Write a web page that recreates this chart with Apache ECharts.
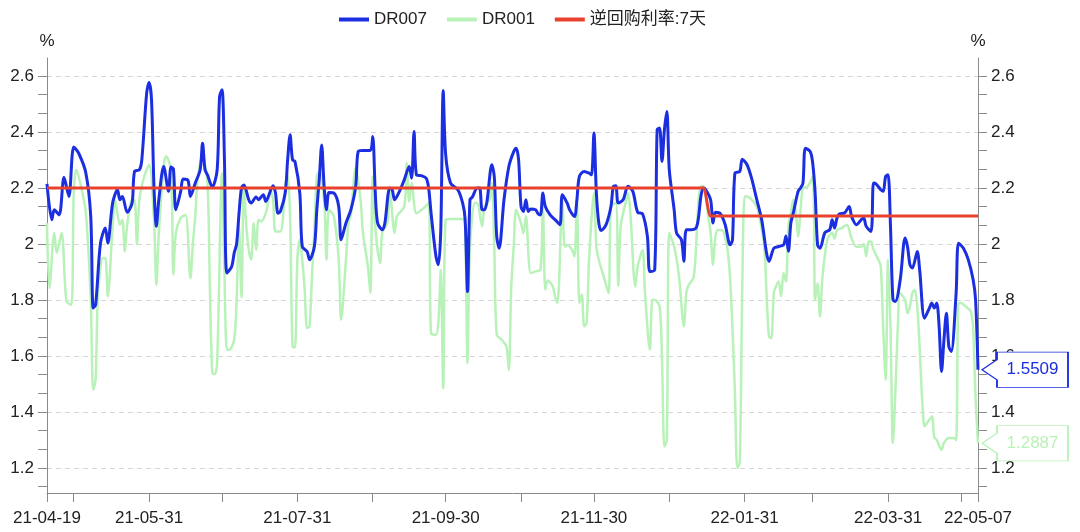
<!DOCTYPE html>
<html><head><meta charset="utf-8">
<script src="https://cdn.jsdelivr.net/npm/echarts@6/dist/echarts.min.js"></script>
<style>html,body{margin:0;padding:0;background:#fff}#c{width:1080px;height:532px}</style>
</head><body><div id="c"></div>
<script>
const dr007Dates = ['2021-04-19','2021-04-21','2021-04-22','2021-04-24','2021-04-26','2021-04-28','2021-04-30','2021-05-02','2021-05-05','2021-05-07','2021-05-08','2021-05-09','2021-05-11','2021-05-13','2021-05-14','2021-05-16','2021-05-18','2021-05-19','2021-05-20','2021-05-22','2021-05-24','2021-05-25','2021-05-27','2021-05-28','2021-05-30','2021-05-31','2021-06-01','2021-06-02','2021-06-03','2021-06-04','2021-06-06','2021-06-08','2021-06-09','2021-06-10','2021-06-11','2021-06-13','2021-06-14','2021-06-16','2021-06-17','2021-06-19','2021-06-21','2021-06-22','2021-06-23','2021-06-24','2021-06-26','2021-06-28','2021-06-29','2021-06-30','2021-07-01','2021-07-02','2021-07-04','2021-07-05','2021-07-06','2021-07-07','2021-07-08','2021-07-09','2021-07-11','2021-07-12','2021-07-14','2021-07-15','2021-07-17','2021-07-18','2021-07-21','2021-07-22','2021-07-23','2021-07-24','2021-07-26','2021-07-27','2021-07-28','2021-07-29','2021-07-30','2021-08-01','2021-08-02','2021-08-04','2021-08-05','2021-08-07','2021-08-08','2021-08-09','2021-08-10','2021-08-11','2021-08-12','2021-08-13','2021-08-15','2021-08-17','2021-08-18','2021-08-20','2021-08-22','2021-08-24','2021-08-25','2021-08-27','2021-08-30','2021-08-31','2021-09-01','2021-09-02','2021-09-04','2021-09-05','2021-09-07','2021-09-08','2021-09-09','2021-09-11','2021-09-13','2021-09-15','2021-09-16','2021-09-17','2021-09-18','2021-09-20','2021-09-22','2021-09-23','2021-09-24','2021-09-26','2021-09-27','2021-09-28','2021-09-29','2021-09-30','2021-10-02','2021-10-05','2021-10-07','2021-10-08','2021-10-09','2021-10-10','2021-10-11','2021-10-13','2021-10-14','2021-10-15','2021-10-16','2021-10-17','2021-10-19','2021-10-20','2021-10-21','2021-10-22','2021-10-24','2021-10-26','2021-10-28','2021-10-29','2021-10-30','2021-10-31','2021-11-01','2021-11-02','2021-11-03','2021-11-04','2021-11-06','2021-11-07','2021-11-08','2021-11-09','2021-11-10','2021-11-12','2021-11-14','2021-11-16','2021-11-17','2021-11-19','2021-11-20','2021-11-22','2021-11-23','2021-11-24','2021-11-26','2021-11-28','2021-11-29','2021-11-30','2021-12-01','2021-12-02','2021-12-03','2021-12-05','2021-12-07','2021-12-08','2021-12-09','2021-12-10','2021-12-12','2021-12-14','2021-12-16','2021-12-18','2021-12-20','2021-12-22','2021-12-23','2021-12-25','2021-12-26','2021-12-27','2021-12-28','2021-12-29','2021-12-30','2021-12-31','2022-01-02','2022-01-03','2022-01-05','2022-01-06','2022-01-07','2022-01-09','2022-01-11','2022-01-12','2022-01-13','2022-01-14','2022-01-15','2022-01-17','2022-01-18','2022-01-19','2022-01-21','2022-01-23','2022-01-25','2022-01-26','2022-01-27','2022-01-29','2022-01-30','2022-02-01','2022-02-03','2022-02-05','2022-02-07','2022-02-09','2022-02-10','2022-02-12','2022-02-14','2022-02-16','2022-02-17','2022-02-18','2022-02-19','2022-02-20','2022-02-22','2022-02-23','2022-02-24','2022-02-25','2022-02-27','2022-02-28','2022-03-01','2022-03-02','2022-03-03','2022-03-05','2022-03-07','2022-03-08','2022-03-09','2022-03-10','2022-03-11','2022-03-13','2022-03-15','2022-03-16','2022-03-18','2022-03-20','2022-03-21','2022-03-22','2022-03-24','2022-03-25','2022-03-26','2022-03-28','2022-03-29','2022-03-30','2022-03-31','2022-04-01','2022-04-02','2022-04-03','2022-04-05','2022-04-07','2022-04-08','2022-04-09','2022-04-10','2022-04-12','2022-04-13','2022-04-15','2022-04-17','2022-04-18','2022-04-19','2022-04-20','2022-04-21','2022-04-22','2022-04-23','2022-04-24','2022-04-25','2022-04-26','2022-04-28','2022-04-29','2022-05-01','2022-05-03','2022-05-05','2022-05-06','2022-05-07'];
const dr007Values = [2.215,2.087,2.122,2.104,2.238,2.17,2.346,2.325,2.253,2.098,1.771,1.783,2.003,2.057,2.003,2.146,2.194,2.158,2.17,2.113,2.146,2.259,2.265,2.30,2.539,2.577,2.515,2.206,2.063,2.158,2.277,2.188,2.275,2.268,2.122,2.188,2.232,2.227,2.17,2.218,2.265,2.36,2.265,2.247,2.203,2.265,2.527,2.551,2.30,1.896,1.92,1.968,2.0,2.11,2.20,2.211,2.158,2.146,2.168,2.158,2.176,2.152,2.208,2.182,2.11,2.116,2.182,2.301,2.39,2.301,2.295,2.182,1.991,1.973,1.944,1.991,2.122,2.23,2.354,2.206,2.122,2.184,2.182,2.134,2.015,2.075,2.122,2.206,2.33,2.334,2.334,2.384,2.194,2.075,2.051,2.075,2.20,2.194,2.158,2.188,2.23,2.277,2.235,2.402,2.247,2.244,2.235,2.20,2.11,1.956,1.926,2.05,2.548,2.32,2.218,2.194,2.146,2.09,1.83,2.158,2.168,2.20,2.20,2.122,2.122,2.152,2.283,2.241,2.027,1.985,2.158,2.277,2.33,2.342,2.301,2.134,2.116,2.158,2.116,2.125,2.122,2.108,2.104,2.182,2.134,2.104,2.087,2.069,2.176,2.146,2.122,2.098,2.158,2.241,2.259,2.253,2.247,2.396,2.182,2.075,2.048,2.069,2.134,2.206,2.208,2.146,2.158,2.206,2.188,2.113,2.108,2.027,1.902,1.908,2.408,2.414,2.295,2.408,2.473,2.265,2.122,2.039,2.015,1.938,2.051,2.051,2.057,2.093,2.17,2.20,2.194,2.158,2.075,2.113,2.108,2.069,1.997,2.015,2.253,2.259,2.303,2.283,2.23,2.158,2.087,1.968,1.938,1.985,1.991,1.997,2.029,1.974,2.075,2.11,2.188,2.20,2.218,2.342,2.33,2.289,2.182,1.997,1.985,2.04,2.051,2.087,2.057,2.093,2.108,2.11,2.134,2.098,2.069,2.087,2.093,2.063,2.045,2.218,2.215,2.194,2.188,2.241,2.247,2.063,1.801,1.795,1.872,2.021,1.991,1.926,1.914,1.973,1.908,1.735,1.771,1.789,1.771,1.789,1.706,1.545,1.658,1.753,1.634,1.616,1.825,2.003,1.985,1.944,1.872,1.801,1.5509];

const dr001Dates = ['2021-04-19','2021-04-20','2021-04-22','2021-04-23','2021-04-25','2021-04-27','2021-04-29','2021-04-30','2021-05-01','2021-05-03','2021-05-05','2021-05-07','2021-05-08','2021-05-09','2021-05-10','2021-05-12','2021-05-13','2021-05-14','2021-05-16','2021-05-17','2021-05-19','2021-05-20','2021-05-21','2021-05-22','2021-05-24','2021-05-25','2021-05-26','2021-05-27','2021-05-29','2021-05-31','2021-06-02','2021-06-03','2021-06-04','2021-06-06','2021-06-07','2021-06-09','2021-06-10','2021-06-11','2021-06-13','2021-06-15','2021-06-17','2021-06-18','2021-06-19','2021-06-20','2021-06-22','2021-06-24','2021-06-25','2021-06-26','2021-06-27','2021-06-28','2021-06-30','2021-07-01','2021-07-02','2021-07-03','2021-07-05','2021-07-06','2021-07-07','2021-07-08','2021-07-09','2021-07-10','2021-07-11','2021-07-12','2021-07-13','2021-07-14','2021-07-15','2021-07-16','2021-07-18','2021-07-20','2021-07-21','2021-07-22','2021-07-24','2021-07-25','2021-07-26','2021-07-27','2021-07-28','2021-07-29','2021-07-30','2021-07-31','2021-08-01','2021-08-02','2021-08-03','2021-08-04','2021-08-05','2021-08-06','2021-08-07','2021-08-08','2021-08-09','2021-08-11','2021-08-12','2021-08-13','2021-08-15','2021-08-17','2021-08-18','2021-08-20','2021-08-21','2021-08-22','2021-08-24','2021-08-26','2021-08-27','2021-08-29','2021-08-30','2021-08-31','2021-09-01','2021-09-03','2021-09-04','2021-09-06','2021-09-07','2021-09-09','2021-09-10','2021-09-13','2021-09-14','2021-09-15','2021-09-16','2021-09-18','2021-09-21','2021-09-23','2021-09-24','2021-09-26','2021-09-27','2021-09-28','2021-09-29','2021-09-30','2021-10-02','2021-10-05','2021-10-07','2021-10-08','2021-10-09','2021-10-10','2021-10-12','2021-10-13','2021-10-15','2021-10-16','2021-10-18','2021-10-19','2021-10-20','2021-10-21','2021-10-23','2021-10-25','2021-10-26','2021-10-27','2021-10-28','2021-10-29','2021-10-31','2021-11-01','2021-11-02','2021-11-04','2021-11-06','2021-11-08','2021-11-09','2021-11-10','2021-11-11','2021-11-13','2021-11-14','2021-11-15','2021-11-17','2021-11-18','2021-11-19','2021-11-21','2021-11-22','2021-11-23','2021-11-24','2021-11-25','2021-11-26','2021-11-27','2021-11-28','2021-11-30','2021-12-01','2021-12-02','2021-12-04','2021-12-06','2021-12-07','2021-12-09','2021-12-10','2021-12-11','2021-12-13','2021-12-14','2021-12-15','2021-12-17','2021-12-18','2021-12-20','2021-12-21','2021-12-23','2021-12-24','2021-12-25','2021-12-27','2021-12-28','2021-12-29','2021-12-30','2021-12-31','2022-01-02','2022-01-04','2022-01-06','2022-01-07','2022-01-08','2022-01-10','2022-01-11','2022-01-12','2022-01-13','2022-01-14','2022-01-15','2022-01-16','2022-01-17','2022-01-18','2022-01-19','2022-01-20','2022-01-22','2022-01-23','2022-01-24','2022-01-25','2022-01-26','2022-01-27','2022-01-28','2022-01-29','2022-01-30','2022-01-31','2022-02-01','2022-02-03','2022-02-05','2022-02-06','2022-02-08','2022-02-09','2022-02-10','2022-02-11','2022-02-12','2022-02-13','2022-02-14','2022-02-15','2022-02-16','2022-02-17','2022-02-18','2022-02-19','2022-02-20','2022-02-21','2022-02-22','2022-02-23','2022-02-24','2022-02-26','2022-02-28','2022-03-01','2022-03-02','2022-03-03','2022-03-04','2022-03-06','2022-03-08','2022-03-09','2022-03-10','2022-03-12','2022-03-14','2022-03-16','2022-03-18','2022-03-20','2022-03-21','2022-03-22','2022-03-23','2022-03-24','2022-03-25','2022-03-27','2022-03-28','2022-03-29','2022-03-30','2022-03-31','2022-04-01','2022-04-02','2022-04-03','2022-04-04','2022-04-05','2022-04-07','2022-04-08','2022-04-09','2022-04-10','2022-04-11','2022-04-12','2022-04-13','2022-04-14','2022-04-15','2022-04-16','2022-04-18','2022-04-19','2022-04-20','2022-04-22','2022-04-23','2022-04-25','2022-04-27','2022-04-28','2022-04-29','2022-04-30','2022-05-02','2022-05-04','2022-05-05','2022-05-06','2022-05-07'];
const dr001Values = [2.075,1.843,2.039,1.968,2.039,1.795,1.783,2.182,2.265,2.206,2.11,1.801,1.479,1.515,1.825,1.95,1.95,1.813,2.063,2.158,2.069,2.087,1.973,2.069,2.158,2.158,1.999,2.158,2.241,2.283,2.087,1.854,2.039,2.277,2.313,2.265,1.89,2.039,2.093,2.104,1.878,2.0,2.1,2.23,2.313,2.218,1.85,1.54,1.535,1.575,2.253,1.90,1.622,1.622,1.658,1.80,2.063,1.81,2.206,2.063,1.979,1.944,2.075,1.979,2.087,2.08,2.11,2.188,2.158,2.045,2.045,2.087,2.206,2.247,2.10,1.634,1.63,1.944,2.015,1.944,1.837,1.70,1.706,1.884,2.051,2.241,2.259,2.158,1.944,2.122,2.10,1.944,1.73,1.944,2.075,2.104,2.271,2.158,2.039,1.92,1.825,2.241,2.063,1.932,2.045,2.075,2.188,2.039,2.10,2.134,2.289,2.152,2.218,2.11,2.128,2.146,1.68,1.676,1.72,1.908,1.485,2.087,2.089,2.089,2.089,2.075,1.575,1.99,2.146,2.146,2.063,2.134,2.158,2.218,1.99,1.676,1.658,1.634,1.55,1.85,1.99,2.122,2.075,2.039,2.099,1.896,1.902,1.908,2.134,1.837,1.87,1.85,1.813,1.79,2.158,1.99,1.997,1.979,1.955,2.158,1.789,1.82,1.706,1.718,1.944,2.182,1.99,1.944,1.884,1.825,2.134,2.146,1.85,2.063,2.146,2.182,2.11,1.848,1.92,1.979,1.825,1.622,1.80,1.801,1.777,1.59,1.277,1.30,2.039,1.991,1.884,1.706,1.825,1.854,1.88,1.99,2.15,2.206,2.206,2.17,2.10,2.04,1.926,2.027,2.05,2.048,2.02,1.98,1.88,1.70,1.47,1.20,1.22,1.83,2.17,2.17,2.158,2.134,2.098,2.0,1.825,1.67,1.664,1.825,1.85,1.866,1.813,1.896,1.866,2.063,2.11,2.158,2.12,2.027,2.12,2.20,2.206,2.241,1.80,1.86,1.741,1.88,2.015,2.04,2.02,2.05,2.057,2.069,2.02,1.99,1.991,2.0,1.956,2.009,2.009,1.98,1.944,1.92,1.70,1.515,1.944,1.70,1.289,1.47,1.70,1.825,1.80,1.753,1.777,1.825,1.837,1.777,1.63,1.45,1.349,1.36,1.384,1.31,1.30,1.265,1.29,1.307,1.307,1.30,1.789,1.789,1.777,1.76,1.70,1.45,1.2887];

const repoDates = ['2021-04-19','2022-01-13','2022-01-14','2022-01-17','2022-01-18','2022-05-07'];
const repoValues = [2.2,2.2,2.2,2.1,2.1,2.1];

const xTickDates = ['2021-04-19','2021-04-30','2021-05-31','2021-06-30','2021-07-31','2021-08-31','2021-09-30','2021-10-31','2021-11-30','2021-12-31','2022-01-31','2022-02-28','2022-03-31','2022-04-30','2022-05-07'];
const xLabelDates = ['2021-04-19','2021-05-31','2021-07-31','2021-09-30','2021-11-30','2022-01-31','2022-03-31','2022-05-07'];
const yLabelValues = [1.2,1.4,1.6,1.8,2.0,2.2,2.4,2.6];
const seriesNames = ['DR007','DR001','逆回购利率:7天'];

const C_BLUE = '#1b2fe0', C_GREEN = '#b8f2b8', C_RED = '#e8412d';
const FONT = "'Liberation Sans','Noto Sans CJK SC',Arial,sans-serif";
const Y_MIN = 1.1107, Y_MAX = 2.6643;

// date string -> local timestamp (x axis is a numeric day scale)
const ts = s => { const p = s.split('-'); return new Date(+p[0], +p[1] - 1, +p[2]).getTime(); };
const pad = n => (n < 10 ? '0' : '') + n;
const fmtDate = v => { const d = new Date(v); return pad(d.getFullYear() % 100) + '-' + pad(d.getMonth()+1) + '-' + pad(d.getDate()); };
const pairs = (ds, vs) => ds.map((d, i) => [ts(d), vs[i]]);

const yTickValues = [];
yLabelValues.forEach(v => { [v - 1/15, v, v + 1/15].forEach(t => { const r = Math.round(t*10000)/10000; if (yTickValues.indexOf(r) < 0) yTickValues.push(r); }); });

const calloutPath = 'path://M0,17.7 L15,7.6 L15,0 L86,0 L86,35.3 L15,35.3 L15,27.7 Z';
function callout(dates, values, color) {
  const i = dates.length - 1;
  return {
    symbol: calloutPath, symbolSize: [86, 35.3], symbolKeepAspect: false,
    symbolOffset: [47, 0], silent: true, animation: false,
    itemStyle: { color: '#fff', borderColor: color, borderWidth: 1.2 },
    label: { show: true, position: 'inside', offset: [7.5, 0], color: color, fontSize: 17, fontFamily: FONT,
      formatter: p => String(p.value) },
    data: [{ coord: [ts(dates[i]), values[i]], value: values[i] }]
  };
}

const axisLineStyle = { color: '#8a8a8a', width: 1 };
function yAxisCfg(pos) {
  return {
    type: 'value', position: pos, min: Y_MIN, max: Y_MAX,
    name: '%', nameLocation: 'end', nameGap: 8,
    nameTextStyle: { color: '#222', fontSize: 17, fontFamily: FONT, align: 'center' },
    axisLine: { show: true, lineStyle: axisLineStyle },
    axisTick: { show: true, length: 9, lineStyle: axisLineStyle, customValues: yTickValues },
    axisLabel: { show: true, margin: 13, color: '#222', fontSize: 17, fontFamily: FONT,
      customValues: yLabelValues, formatter: v => String(Math.round(v*10)/10) },
    splitLine: { show: false }
  };
}

const chart = echarts.init(document.getElementById('c'), null, { renderer: 'canvas' });
chart.setOption({
  animation: false,
  backgroundColor: '#fff',
  textStyle: { fontFamily: FONT },
  legend: {
    top: 6, left: 334, itemWidth: 30, itemHeight: 4, itemGap: 20, icon: 'rect',
    textStyle: { color: '#222', fontSize: 17, fontFamily: FONT },
    data: seriesNames
  },
  grid: { left: 47, right: 102, top: 58, bottom: 39 },
  xAxis: {
    type: 'value', min: ts('2021-04-19'), max: ts('2022-05-07'),
    axisLine: { show: true, onZero: false, lineStyle: axisLineStyle },
    axisTick: { show: true, length: 9, lineStyle: axisLineStyle, customValues: xTickDates.map(ts) },
    axisLabel: { show: true, margin: 17, color: '#222', fontSize: 17, fontFamily: FONT, hideOverlap: false,
      customValues: xLabelDates.map(ts), formatter: v => fmtDate(v) },
    splitLine: { show: false }
  },
  yAxis: [
    yAxisCfg('left'),
    yAxisCfg('right'),
    {
      type: 'value', position: 'left', min: Y_MIN, max: Y_MAX, name: '',
      axisLine: { show: false }, axisLabel: { show: false },
      axisTick: { show: false, customValues: yLabelValues },
      splitLine: { show: true, lineStyle: { color: '#d6d6d6', width: 1, type: [5, 4] } }
    }
  ],
  series: [
    { name: seriesNames[0], type: 'line', yAxisIndex: 0, z: 3, showSymbol: false, symbol: 'none', smooth: 0.3, clip: false,
      lineStyle: { color: C_BLUE, width: 3 }, itemStyle: { color: C_BLUE },
      data: pairs(dr007Dates, dr007Values), markPoint: callout(dr007Dates, dr007Values, C_BLUE) },
    { name: seriesNames[1], type: 'line', yAxisIndex: 0, z: 2, showSymbol: false, symbol: 'none', smooth: 0.3, clip: false,
      lineStyle: { color: C_GREEN, width: 2.5 }, itemStyle: { color: C_GREEN },
      data: pairs(dr001Dates, dr001Values), markPoint: callout(dr001Dates, dr001Values, C_GREEN) },
    { name: seriesNames[2], type: 'line', yAxisIndex: 0, z: 4, showSymbol: false, symbol: 'none', smooth: 0.3,
      lineStyle: { color: C_RED, width: 3 }, itemStyle: { color: C_RED },
      data: pairs(repoDates, repoValues) }
  ]
});
</script>
</body></html>
